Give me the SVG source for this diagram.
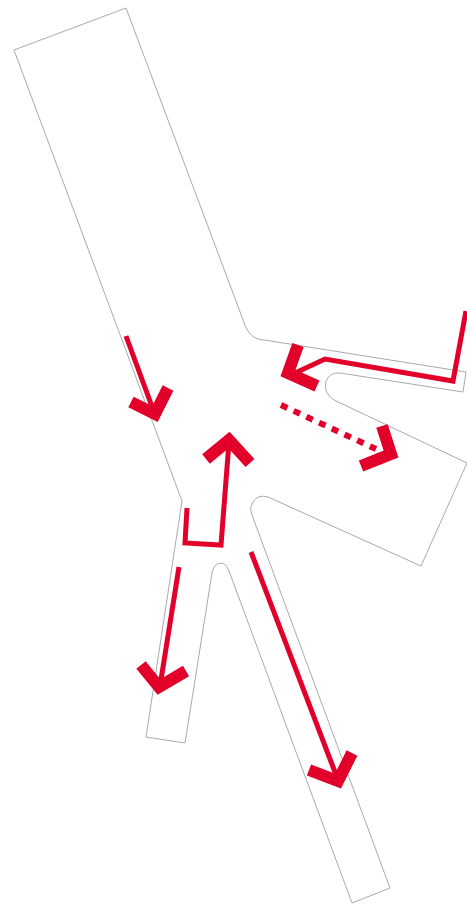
<svg xmlns="http://www.w3.org/2000/svg" width="467" height="905" viewBox="0 0 467 905">
<style>
.o{fill:#fff;stroke:#aaa;stroke-width:1}
.l{fill:none;stroke:#e2002a;stroke-linejoin:miter;stroke-miterlimit:10}
.t{stroke-width:5}
.h{stroke-width:12}
</style>
<rect width="467" height="905" fill="#fff"/>
<g id="plan"><path class="o" d="M14 50L126 8L245 325Q249 336 258 339L466 372L463 392L340 373Q330 372 326 381Q323 393 334 400L467 463L421 566L268 497Q258 494 253 502Q249 508 252 515L390 888L352 903L229 571Q226 563 221 563Q214 563 212 573L185 743L146 737L182 501Z"/></g>
<g id="connectors">
<path class="l t" d="M126 336L154 412"/>
<path class="l h" d="M131 402L155 414L168 388"/>
<path class="l t" d="M466 311L453 381L325 359L295 373"/>
<path class="l h" d="M298 345L288 373L317 386"/>
<path class="l" stroke-width="6" stroke-dasharray="7 7" d="M281 405L376 449"/>
<path class="l h" d="M382 426L391 454L361 466"/>
<path class="l t" d="M187 508L185 543L221 545L229 442"/>
<path class="l h" d="M206 459L229 440L250 463"/>
<path class="l t" d="M179 567L160 686"/>
<path class="l h" d="M141 665L159 687L186 671"/>
<path class="l t" d="M251 552L338 780"/>
<path class="l h" d="M309 770L338 781L352 753"/>
</g>
</svg>
